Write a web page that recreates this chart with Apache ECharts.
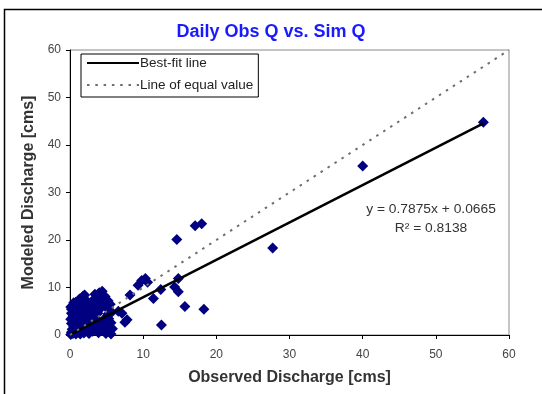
<!DOCTYPE html>
<html>
<head>
<meta charset="utf-8">
<script src="https://cdn.jsdelivr.net/npm/echarts@6/dist/echarts.min.js"></script>
<style>
html,body{margin:0;padding:0;background:#fff;}
#chart{width:542px;height:394px;}
</style>
</head>
<body>
<div id="chart"></div>
<script>
// Observed (x) and modeled (y) daily discharge, cms
const observed = [
  0.1,0.2,0.4,0.3,0.6,0.8,0.5,0.2,0.7,0.1,0.4,0.2,0.6,0.9,1.0,1.1,1.2,1.3,1.4,1.1,
  1.6,1.8,1.5,1.7,1.9,2.0,2.1,2.2,2.3,2.4,2.5,2.6,2.7,2.8,2.9,3.0,3.1,3.2,3.3,3.4,
  3.5,3.6,3.7,3.8,3.9,4.0,4.1,4.2,4.3,4.4,4.5,4.6,4.8,4.9,5.0,5.1,5.2,5.3,5.4,5.5,
  5.6,5.7,5.8,0.3,0.8,1.3,2.4,3.9,4.4,2.0,1.0,0.5,0.9,1.6,2.1,3.4,5.4,2.9,1.4,0.6,
  3.7,5.0,4.3,0.2,0.7,1.2,1.9,2.6,3.1,3.6,4.2,4.7,5.2,2.2,1.1,0.4,3.3,4.1,4.8,2.5,
  1.7,0.8,5.6,3.0,3.8,0.5,0.1,1.5,
  6.6,7.1,7.8,7.5,8.2,9.3,9.8,10.3,10.6,11.4,12.4,12.5,14.3,14.8,14.8,15.7,18.3,
  14.6,17.1,18.0,27.7,40.0,56.5
];
const modeled = [
  0.1,0.6,0.3,1.2,0.9,0.2,1.8,2.4,2.9,3.3,3.9,4.6,5.1,4.2,1.4,0.6,2.2,3.4,5.6,6.3,
  7.2,8.2,4.6,1.9,0.4,3.0,6.2,5.0,1.1,2.6,4.1,0.3,6.6,3.5,1.8,5.4,0.8,7.4,2.9,8.6,
  4.6,1.5,6.2,3.1,0.5,8.9,5.5,2.3,7.6,1.0,6.7,3.0,8.1,0.3,5.8,1.9,7.2,3.4,0.9,6.5,
  2.6,4.8,1.3,6.0,6.9,7.6,7.0,7.8,9.2,8.4,5.3,0.5,1.1,2.8,0.9,3.8,5.2,2.3,0.2,3.5,
  1.1,3.9,2.7,5.4,6.4,4.0,5.8,4.8,6.7,5.4,6.0,7.0,4.4,4.2,3.0,4.3,1.9,1.6,2.4,3.4,
  3.8,3.7,0.2,4.1,4.6,6.8,5.9,6.1,
  5.0,4.6,3.2,2.7,8.4,10.5,11.5,11.9,11.1,7.7,9.6,2.1,10.1,11.9,9.1,6.0,5.4,
  20.1,23.0,23.4,18.3,35.6,44.8
];
// Best-fit line endpoints (y = 0.7875x + 0.0665)
const fitX = [0, 56.5];
const fitY = [0.07, 44.56];
// Line of equal value
const equalX = [0, 60];
const equalY = [0, 60];
const axisTicks = [0, 10, 20, 30, 40, 50, 60];
const equationText = 'y = 0.7875x + 0.0665';
const r2Text = 'R² = 0.8138';
const titleText = 'Daily Obs Q vs. Sim Q';
const xName = 'Observed Discharge [cms]';
const yName = 'Modeled Discharge [cms]';
const legendNames = ['Best-fit line', 'Line of equal value'];

const scatterData = observed.map((x, i) => [x, modeled[i]]);
const fitData = fitX.map((x, i) => [x, fitY[i]]);
const equalData = equalX.map((x, i) => [x, equalY[i]]);

const FONT = 'Liberation Sans, Arial, sans-serif';
const chart = echarts.init(document.getElementById('chart'), null, {renderer: 'canvas'});
chart.setOption({
  animation: false,
  backgroundColor: '#fff',
  title: {
    text: titleText, left: 'center', top: 23, padding: 0,
    textStyle: {color: '#1a1aff', fontSize: 18, fontWeight: 'bold', fontFamily: FONT}
  },
  legend: {
    orient: 'vertical', left: 81, top: 54,
    data: legendNames,
    backgroundColor: '#fff', borderColor: '#000', borderWidth: 1, borderRadius: 0,
    padding: [2, 5, 5, 5], itemGap: 8, itemWidth: 52, itemHeight: 14,
    itemStyle: {opacity: 0},
    textStyle: {color: '#222', fontSize: 13.5, fontFamily: FONT, padding: [0, 0, 0, -4]}
  },
  grid: {
    left: 70, right: 33, top: 50, bottom: 59,
    show: true, borderColor: '#8a8a8a', borderWidth: 1, backgroundColor: 'transparent'
  },
  xAxis: {
    type: 'value', min: axisTicks[0], max: axisTicks[axisTicks.length - 1], interval: 10,
    name: xName, nameLocation: 'middle', nameGap: 35,
    nameTextStyle: {color: '#333', fontSize: 16, fontWeight: 'bold', fontFamily: FONT},
    axisLine: {lineStyle: {color: '#000', width: 1}},
    axisTick: {show: true, inside: false, length: 4, lineStyle: {color: '#000'}},
    axisLabel: {color: '#444', fontSize: 12, fontFamily: FONT, margin: 14},
    splitLine: {show: false}
  },
  yAxis: {
    type: 'value', min: axisTicks[0], max: axisTicks[axisTicks.length - 1], interval: 10,
    name: yName, nameLocation: 'middle', nameGap: 32, nameRotate: 90,
    nameTextStyle: {color: '#333', fontSize: 16, fontWeight: 'bold', fontFamily: FONT},
    axisLine: {show: true, lineStyle: {color: '#000', width: 1}},
    axisTick: {show: true, inside: false, length: 4, lineStyle: {color: '#000'}},
    axisLabel: {color: '#444', fontSize: 12, fontFamily: FONT, margin: 9},
    splitLine: {show: false}
  },
  series: [
    {
      name: 'Daily Q', type: 'scatter', data: scatterData,
      symbol: 'diamond', symbolSize: 11,
      itemStyle: {color: '#000080', opacity: 1}, z: 2
    },
    {
      name: legendNames[0], type: 'line', data: fitData, symbol: 'none',
      lineStyle: {color: '#000', width: 2.5, type: 'solid'},
      itemStyle: {color: '#000'}, z: 3
    },
    {
      name: legendNames[1], type: 'line', data: equalData, symbol: 'none',
      lineStyle: {color: '#6e6e6e', width: 2, type: [2.5, 5.8]},
      itemStyle: {color: '#6e6e6e'}, z: 3
    }
  ],
  graphic: [
    {
      type: 'rect', left: 2, top: 7, silent: true, z: -10,
      shape: {width: 600, height: 500},
      style: {fill: 'none', stroke: '#000', lineWidth: 1.5}
    },
    {
      type: 'text', x: 431, y: 210, scaleX: 1.15, silent: true,
      style: {text: equationText, fill: '#333', font: '12px ' + FONT, align: 'center', verticalAlign: 'middle'}
    },
    {
      type: 'text', x: 431, y: 229, scaleX: 1.15, silent: true,
      style: {text: r2Text, fill: '#333', font: '12px ' + FONT, align: 'center', verticalAlign: 'middle'}
    }
  ]
});
</script>
</body>
</html>
